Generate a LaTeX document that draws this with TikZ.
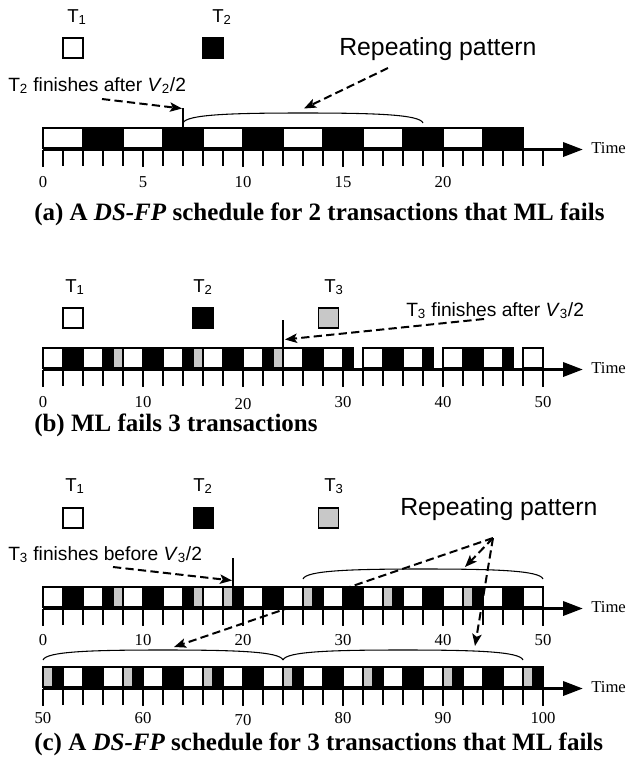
\documentclass[tikz,border=0pt]{standalone}
\usepackage{fontspec}
\setmainfont{Liberation Serif}
\setsansfont{Liberation Sans}
\usetikzlibrary{arrows.meta}
\definecolor{gfill}{RGB}{200,200,200}
\tikzset{
  blk/.style={draw=black, line width=0.9pt},
  wb/.style={blk, fill=white},
  bb/.style={blk, fill=black},
  gb/.style={blk, fill=gfill},
  sq/.style={draw=black, line width=0.9pt, minimum size=15pt, inner sep=0pt, outer sep=0pt},
  axisline/.style={line width=2.6pt, -{Triangle[length=15pt,width=10.5pt]}},
  minortick/.style={line width=0.9pt},
  majortick/.style={line width=2pt},
  darrow/.style={line width=1.5pt, dash pattern=on 6.2pt off 3.2pt, -{Stealth[length=9pt,width=7pt,inset=2pt]}},
  marker/.style={line width=0.8pt},
  bracel/.style={line width=0.8pt},
  tlabel/.style={font=\sffamily\fontsize{14}{16}\selectfont, inner sep=0pt, anchor=base west},
  note/.style={font=\sffamily\fontsize{14.4}{17}\selectfont, inner sep=0pt, anchor=base west},
  rep/.style={font=\sffamily\fontsize{18.6}{22}\selectfont, inner sep=0pt, anchor=base west},
  num/.style={font=\fontsize{12.5}{14}\selectfont, inner sep=0pt, anchor=base},
  timel/.style={font=\fontsize{12.5}{14}\selectfont, inner sep=0pt, anchor=base west},
  capt/.style={font=\bfseries\fontsize{18.75}{22}\selectfont, inner sep=0pt, anchor=base west},
}
\newcommand\drawaxis[2]{%
  \draw[axisline] (43,{#1+21.5}) -- (583,{#1+21.5});
  \foreach \k in {0,...,25} \draw[minortick] ({43+20*\k},{#1+22}) -- ({43+20*\k},{#1+38});
  \foreach \k in {#2} \draw[majortick] ({43+20*\k},{#1+22}) -- ({43+20*\k},{#1+39});
}
\newcommand\schedbrace[4]{%
  \draw[bracel] (#1,#3) .. controls ({#1+3},{#4+1.5}) and ({#1+0.2*(#2-#1)},#4) .. ({(#1+#2)/2},#4)
     .. controls ({#2-0.2*(#2-#1)},#4) and ({#2-3},{#4+1.5}) .. (#2,#3);
}
\begin{document}
\begin{tikzpicture}[x=0.75pt,y=-0.75pt]
\useasboundingbox (0,0) rectangle (626,769);

% ================= (a) =================
\node[tlabel] (aT1) at (67,22) {T\textsubscript{1}};
\node[tlabel] (aT2) at (212,22) {T\textsubscript{2}};
\node[sq, fill=white] (aS1) at (73,48) {};
\node[sq, fill=black] (aS2) at (213,48) {};
\node[rep] (aRep) at (339,55) {Repeating pattern};
\node[note] (aNote) at (8,91) {T\textsubscript{2} finishes after \textit{V}\textsubscript{2}/2};

\foreach \a in {0,4,...,20} {
  \draw[wb] ({43+20*\a},128) rectangle ({83+20*\a},148);
  \draw[bb] ({83+20*\a},128) rectangle ({123+20*\a},148);
}
\drawaxis{128}{0,5,10,15,20}
\foreach \v/\k in {0/0,5/5,10/10,15/15,20/20} \node[num] (an\v) at ({43+20*\k},187) {\v};
\node[timel] (aTime) at (591,153) {Time};

\coordinate (aMk) at (183,108);
\draw[marker] (aMk) -- (183,128);
\schedbrace{183}{423}{123}{113}
\coordinate (aA1) at (102,99);
\coordinate (aA1e) at (182,108.5);
\draw[darrow] (aA1) -- (aA1e);
\coordinate (aA2) at (388,68);
\coordinate (aA2e) at (304,108.5);
\draw[darrow] (aA2) -- (aA2e);

\node[capt] (aCap) at (34,220) {(a) A \textit{DS-FP} schedule for 2 transactions that ML fails};

% ================= (b) =================
\node[tlabel] (bT1) at (65,292) {T\textsubscript{1}};
\node[tlabel] (bT2) at (193,292) {T\textsubscript{2}};
\node[tlabel] (bT3) at (324,292) {T\textsubscript{3}};
\node[sq, fill=white] (bS1) at (73,318) {};
\node[sq, fill=black] (bS2) at (203,318) {};
\node[sq, fill=gfill] (bS3) at (328.5,318) {};
\node[note] (bNote) at (406,316) {T\textsubscript{3} finishes after \textit{V}\textsubscript{3}/2};

\foreach \a/\b/\s in {0/2/wb,2/4/bb,4/6/wb,6/7/bb,7/8/gb,8/10/wb,10/12/bb,12/14/wb,14/15/bb,15/16/gb,
  16/18/wb,18/20/bb,20/22/wb,22/23/bb,23/24/gb,24/26/wb,26/28/bb,28/30/wb,30/31/bb,
  32/34/wb,34/36/bb,36/38/wb,38/39/bb,40/42/wb,42/44/bb,44/46/wb,46/47/bb,48/50/wb}
  \draw[\s] ({43+10*\a},348) rectangle ({43+10*\b},368);
\drawaxis{348}{0,5,10,15,20,25}
\foreach \v/\k/\d in {0/0/0,10/5/0,20/10/2,30/15/0,40/20/0,50/25/0} \node[num] (bn\v) at ({43+20*\k},{407+\d}) {\v};
\node[timel] (bTime) at (591,373) {Time};

\coordinate (bMk) at (283,320);
\draw[marker] (bMk) -- (283,348);
\coordinate (bA1) at (484,319);
\coordinate (bA1e) at (285,339.5);
\draw[darrow] (bA1) -- (bA1e);

\node[capt] (bCap) at (34,431) {(b) ML fails 3 transactions};

% ================= (c) =================
\node[tlabel] (cT1) at (65,491) {T\textsubscript{1}};
\node[tlabel] (cT2) at (193,491) {T\textsubscript{2}};
\node[tlabel] (cT3) at (324,491) {T\textsubscript{3}};
\node[sq, fill=white] (cS1) at (73,518) {};
\node[sq, fill=black] (cS2) at (203.5,518) {};
\node[sq, fill=gfill] (cS3) at (328.5,518) {};
\node[rep] (cRep) at (400,515) {Repeating pattern};
\node[note] (cNote) at (8,560) {T\textsubscript{3} finishes before \textit{V}\textsubscript{3}/2};

% long arrow passes behind the schedule
\coordinate (cApex) at (493,538);
\coordinate (cA2e) at (174,647);
\draw[darrow] (cApex) -- (cA2e);

% first schedule row 0..50
\foreach \a/\b/\s in {0/2/wb,2/4/bb,4/6/wb,6/7/bb,7/8/gb,8/10/wb,10/12/bb,12/14/wb,14/15/bb,15/16/gb,
  16/18/wb,18/19/gb,19/20/bb,20/22/wb,22/24/bb,24/26/wb,26/27/gb,27/28/bb,28/30/wb,30/32/bb,
  32/34/wb,34/35/gb,35/36/bb,36/38/wb,38/40/bb,40/42/wb,42/43/gb,43/44/bb,44/46/wb,46/48/bb,48/50/wb}
  \draw[\s] ({43+10*\a},587) rectangle ({43+10*\b},607);
\drawaxis{587}{0,5,10,15,20,25}
\foreach \v/\k in {0/0,10/5,20/10,30/15,40/20,50/25} \node[num] (cn\v) at ({43+20*\k},645) {\v};
\node[timel] (cTime1) at (591,612) {Time};

% second schedule row 50..100
\foreach \p in {0,8,...,40} {
  \draw[gb] ({43+10*\p},667) rectangle ({53+10*\p},687);
  \draw[bb] ({53+10*\p},667) rectangle ({63+10*\p},687);
  \draw[wb] ({63+10*\p},667) rectangle ({83+10*\p},687);
  \draw[bb] ({83+10*\p},667) rectangle ({103+10*\p},687);
  \draw[wb] ({103+10*\p},667) rectangle ({123+10*\p},687);
}
\draw[gb] (523,667) rectangle (533,687);
\draw[bb] (533,667) rectangle (543,687);
\drawaxis{667}{0,5,10,15,20,25}
\foreach \v/\k/\d in {50/0/0,60/5/0,70/10/2,80/15/0,90/20/0,100/25/0} \node[num] (dn\v) at ({43+20*\k},{723+\d}) {\v};
\node[timel] (cTime2) at (591,692) {Time};

\coordinate (cMk) at (233,558);
\draw[marker] (cMk) -- (233,587);
\coordinate (cA0) at (113,567);
\coordinate (cA0e) at (232,580.5);
\draw[darrow] (cA0) -- (cA0e);

\schedbrace{303}{543}{579}{569}
\schedbrace{43}{283}{660}{650}
\schedbrace{283}{523}{660}{650}

\coordinate (cA1e) at (465,567);
\coordinate (cA3e) at (475,646);
\draw[darrow] (cApex) -- (cA1e);
\draw[darrow] (cApex) -- (cA3e);

\node[capt] (cCap) at (34,750) {(c) A \textit{DS-FP} schedule for 3 transactions that ML fails};
\end{tikzpicture}
\end{document}
